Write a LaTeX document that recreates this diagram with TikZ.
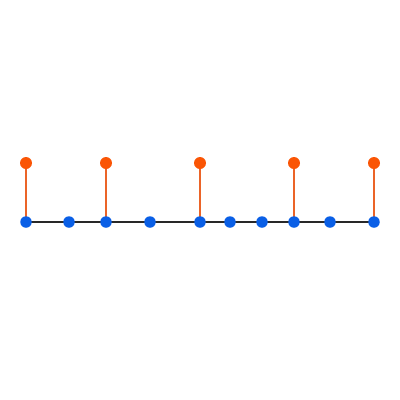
\documentclass[tikz,border=0pt]{standalone}
\usetikzlibrary{backgrounds}
\definecolor{dotblue}{RGB}{10,95,230}
\definecolor{dotorange}{RGB}{250,85,5}
\definecolor{stemorange}{RGB}{235,100,40}
\definecolor{axisgray}{RGB}{40,40,40}
\tikzset{
  bdot/.style={circle, fill=dotblue, inner sep=0pt, minimum size=11.5pt},
  odot/.style={circle, fill=dotorange, inner sep=0pt, minimum size=12pt},
  stem/.style={stemorange, line width=1.9pt},
  axisline/.style={axisgray, line width=1.2pt}
}
\begin{document}
\begin{tikzpicture}[x=1pt, y=-1pt]
  \useasboundingbox (0,0) rectangle (400,400);

  % points on the line
  \foreach \x [count=\i] in {26, 69, 106, 150, 200, 230, 262, 294, 330, 374}
    \node[bdot] (b\i) at (\x,222) {};

  % raised points
  \foreach \x/\i in {26/1, 106/3, 200/5, 294/8, 374/10}
    \node[odot] (o\i) at (\x,163) {};

  \begin{scope}[on background layer]
    \draw[axisline] (b1.center) -- (b10.center);
    \foreach \i in {1, 3, 5, 8, 10}
      \draw[stem] (b\i.center) -- (o\i.center);
  \end{scope}
\end{tikzpicture}
\end{document}
